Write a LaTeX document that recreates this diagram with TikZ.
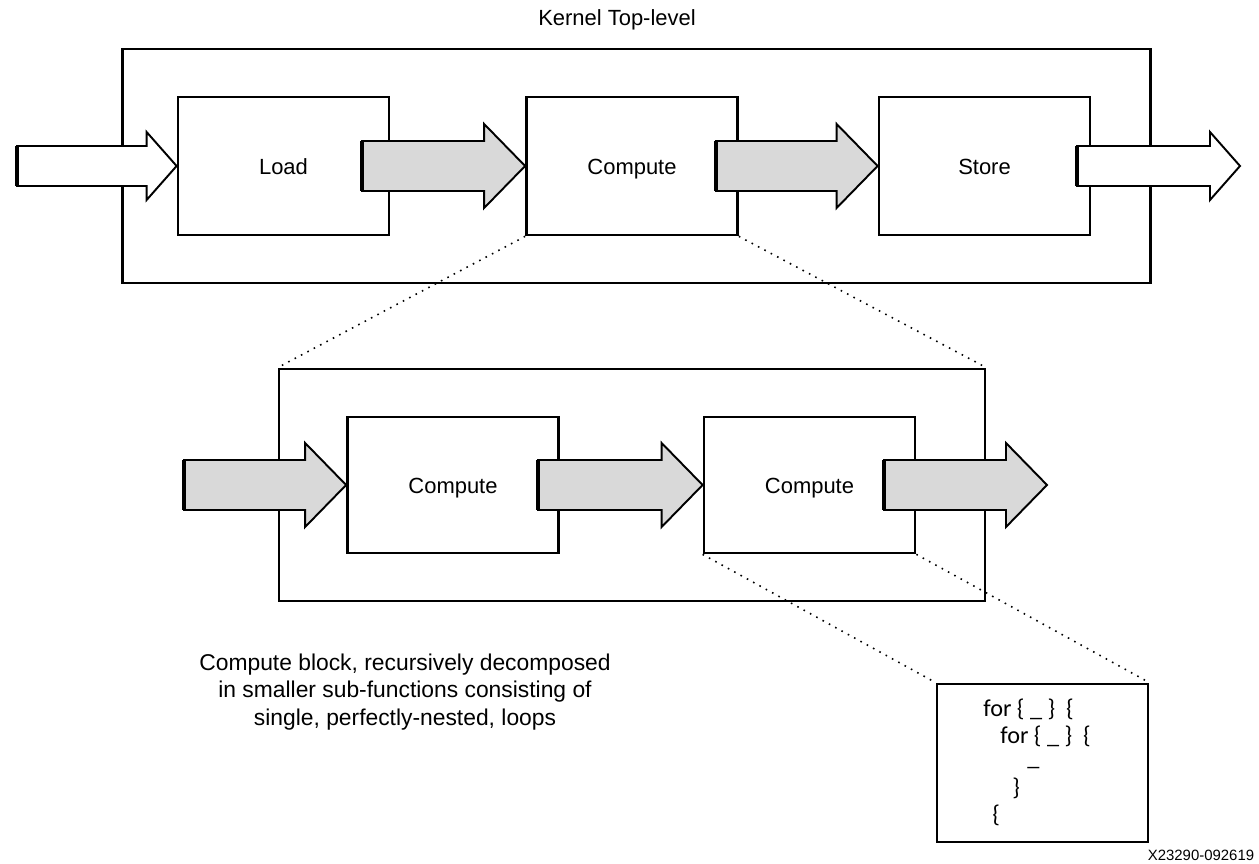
\documentclass[tikz,border=0pt]{standalone}
\usepackage{fontspec}
\setmainfont{Liberation Sans}
\newfontfamily\codefont{Carlito}
\usepackage{xcolor}
\usetikzlibrary{positioning, calc}
\definecolor{arrowgray}{RGB}{217,217,217}

% wide block arrow: style, tail, tip, shaft half, head half, head length
\newcommand{\fatarrow}[6]{%
    \draw[#1] ($(#2)+(0,-#4)$) -- ($(#3)+(-#6,-#4)$) -- ($(#3)+(-#6,-#5)$) -- (#3)
        -- ($(#3)+(-#6,#5)$) -- ($(#3)+(-#6,#4)$) -- ($(#2)+(0,#4)$) -- cycle;
    \draw[line width=1.8pt] ($(#2)+(0,-#4)$) -- ($(#2)+(0,#4)$);
}

\begin{document}
\begin{tikzpicture}[
            x=0.02cm, y=-0.02cm,
            font=\fontsize{12.5}{15}\selectfont,
            frame/.style={draw, line width=1.6pt, inner sep=0pt},
            block/.style={draw, fill=white, line width=1.6pt, minimum width=4.22cm, minimum height=2.76cm,
                text height=2.1ex, text depth=0.3ex},
            grayarrow/.style={draw, line width=1.1pt, fill=arrowgray},
            whitearrow/.style={draw, line width=1.1pt, fill=white},
            zoomline/.style={line width=0.9pt, dash pattern=on 0.9pt off 3.2pt},
            codeline/.style={anchor=base west, inner sep=0pt, font=\codefont\fontsize{13.8}{16}\selectfont},
        ]
            \useasboundingbox (0,0) rectangle (1259,864);

            % top level
            \node (title) at (617,20) {Kernel Top-level};
            \node[frame, minimum width=20.58cm, minimum height=4.68cm] (kernel) at (636.5,166) {};
            \node[block] (load) at (283.5,166) {Load};
            \node[block] (compute) at (632,166) {Compute};
            \node[block] (store) at (984.5,166) {Store};

            \coordinate (kin) at (17,166);
            \coordinate (lct) at (362,166);
            \coordinate (cst) at (716,166);
            \coordinate (kot) at (1077,166);
            \coordinate (kout) at (1240,166);
            \fatarrow{whitearrow}{kin}{load.west}{20}{34}{30}
            \fatarrow{grayarrow}{lct}{compute.west}{25}{42}{41}
            \fatarrow{grayarrow}{cst}{store.west}{25}{42}{41}
            \fatarrow{whitearrow}{kot}{kout}{20}{34}{30}

            % first decomposition
            \node[frame, minimum width=14.12cm, minimum height=4.64cm] (sub) at (632,485) {};
            \node[block, minimum height=2.72cm] (subA) at (453,485) {Compute};
            \node[block, minimum height=2.72cm] (subB) at (809.5,485) {Compute};

            \coordinate (sin) at (184,485);
            \coordinate (abt) at (538,485);
            \coordinate (bot) at (884,485);
            \coordinate (sout) at (1047,485);
            \fatarrow{grayarrow}{sin}{subA.west}{25}{42}{41}
            \fatarrow{grayarrow}{abt}{subB.west}{25}{42}{41}
            \fatarrow{grayarrow}{bot}{sout}{25}{42}{41}

            \draw[zoomline] (compute.south west) -- (sub.north west);
            \draw[zoomline] (compute.south east) -- (sub.north east);

            % loop nest
            \node[frame, minimum width=4.22cm, minimum height=3.16cm] (loops) at (1042.5,763) {};
            \draw[zoomline] (subB.south west) -- (loops.north west);
            \draw[zoomline] (subB.south east) -- (loops.north east);

            \node[codeline] (forA) at (983,717) {for \{ \_ \}\ \ \{};
            \node[codeline] (forB) at (1000,744) {for \{ \_ \}\ \ \{};
            \node[codeline] (body) at (1027,766) {\_};
            \node[codeline] (closeB) at (1012,796) {\}};
            \node[codeline] (closeA) at (992,823) {\{};

            \node[align=center, font=\fontsize{13}{15.5}\selectfont] (caption) at (405,692)
                {Compute block, recursively decomposed\\in smaller sub-functions consisting of\\single, perfectly-nested, loops};
            \node[font=\fontsize{8.5}{10}\selectfont] (figid) at (1201,855) {X23290-092619};
        \end{tikzpicture}
\end{document}
